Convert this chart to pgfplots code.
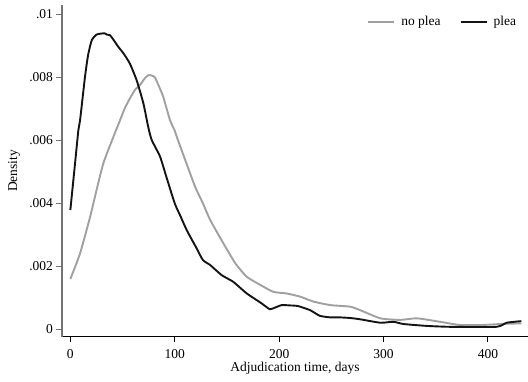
\documentclass[border=0pt]{standalone}
\usepackage{fontspec}
\setmainfont{Liberation Serif}
\usepackage{pgfplots}
\pgfplotsset{compat=1.18}
\definecolor{noplea}{RGB}{160,160,160}
\definecolor{plea}{RGB}{20,20,20}
\begin{document}
\begin{tikzpicture}
\begin{axis}[
  name=ax,
  at={(0,0)}, anchor=south west,
  scale only axis,
  width=466pt, height=331.7pt,
  xmin=-8, xmax=438.4,
  ymin=-0.000244, ymax=0.01029,
  axis lines*=left,
  x axis line style={black, line width=1.1pt, -},
  y axis line style={gray!90!black, line width=1.1pt, -},
  tick align=outside,
  major tick length=5.5pt,
  xtick={0,100,200,300,400},
  xticklabels={0,100,200,300,400},
  ytick={0,0.002,0.004,0.006,0.008,0.01},
  yticklabels={0,.002,.004,.006,.008,.01},
  scaled y ticks=false,
  xtick style={black, line width=0.9pt},
  ytick style={gray!90!black, line width=0.9pt},
  tick label style={font=\fontsize{13.5}{15}\selectfont},
  xticklabel style={yshift=-4pt},
  /pgf/number format/assume math mode=true,
  xlabel={Adjudication time, days},
  ylabel={Density},
  label style={font=\fontsize{13.5}{15}\selectfont},
  xlabel style={at={(rel axis cs:0.5,0)}, anchor=center, yshift=-32pt},
  ylabel style={at={(rel axis cs:-0.103,0.5)}, anchor=center},
  legend style={draw=none, fill=none, at={(rel axis cs:0.977,0.949)}, anchor=east,
    font=\fontsize{13.5}{15}\selectfont, inner sep=0pt,
    nodes={inner sep=1pt},
    /tikz/every odd column/.append style={column sep=5pt},
    /tikz/every even column/.append style={column sep=18pt}},
  legend columns=2,
  legend image code/.code={\draw[#1] (0pt,0pt) -- (26pt,0pt);},
  clip=false,
]
\addplot[noplea, line width=1.9pt, smooth, tension=0.35] coordinates {
(0,0.00159) (9.3,0.0024) (19,0.00357) (25,0.0044) (31.6,0.00526) (40,0.0060)
(47.6,0.00663) (52,0.0070) (57,0.00732) (62,0.0076) (66.8,0.00775) (71,0.00795)
(74.7,0.00806) (78,0.00805) (81,0.00799) (85,0.0077) (89,0.00737) (95.5,0.00663)
(100,0.0063) (102,0.0061) (110,0.00537) (119.5,0.00452) (127,0.00399) (134,0.00346)
(146.6,0.00272) (158,0.00209) (169,0.00166) (182,0.0014) (194.5,0.00118) (207,0.00113)
(220,0.00103) (233,0.00087) (249,0.00076) (268,0.00071) (277.5,0.0006) (297,0.00034)
(316,0.00029) (332,0.00034) (354,0.00023) (373,0.00013) (396,0.00013) (412,0.00016)
(432,0.00018)
};
\addlegendentry{no plea}
\addplot[plea, line width=1.9pt, smooth, tension=0.35] coordinates {
(0,0.00378) (4.5,0.00526) (7.7,0.00632) (9.3,0.00663) (14,0.0080) (17,0.0087)
(20.5,0.00917) (25,0.00935) (29,0.00938) (33,0.00939) (35,0.00935) (38,0.00933)
(41,0.0092) (46,0.00896) (51,0.00875) (57,0.00843) (63.5,0.0079) (70,0.00716)
(74.7,0.00640) (78,0.0060) (86,0.00547) (92,0.00483) (100,0.00399) (105,0.00362)
(111.5,0.00314) (121,0.00256) (127,0.00219) (134,0.00203) (145,0.00171) (156,0.0015)
(169,0.00113) (183,0.00082) (191,0.00063) (196,0.00068) (202.5,0.00076) (210,0.00075)
(218,0.00073) (229.6,0.0006) (239,0.00042) (249,0.00037) (258,0.00037) (268,0.00035)
(277.5,0.00031) (297,0.0002) (309.5,0.00023) (319,0.00016) (341,0.0001) (364,0.00007)
(408,0.00007) (418,0.0002) (432,0.00025)
};
\addlegendentry{plea}
\end{axis}
\pgfresetboundingbox
\path ([xshift=-62pt,yshift=-44.3pt]ax.south west) rectangle ([yshift=5pt]ax.north east);
\end{tikzpicture}
\end{document}
